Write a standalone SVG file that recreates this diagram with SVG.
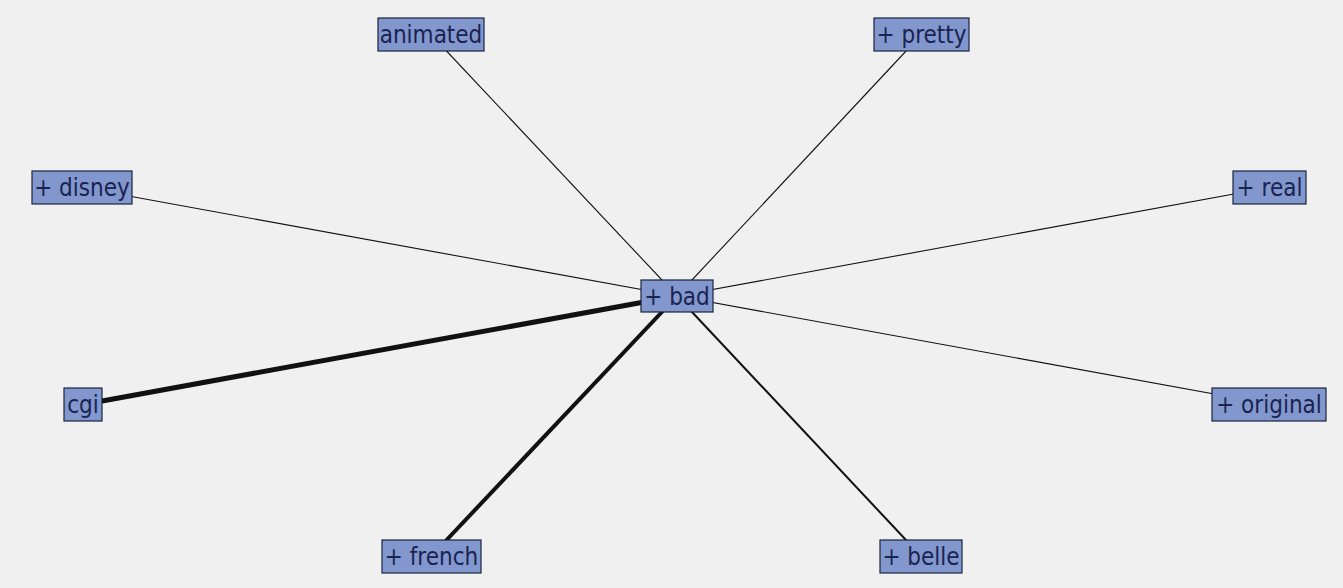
<svg xmlns="http://www.w3.org/2000/svg" width="1343" height="588" viewBox="0 0 1343 588">
  <style>
    .edge { stroke: #111; fill: none; }
    .box { fill: #8197cd; stroke: #1c2440; stroke-width: 1.2; }
    .lbl { font-family: "DejaVu Sans Condensed", "DejaVu Sans", Verdana, sans-serif; font-stretch: condensed; font-size: 24px; fill: #1b2350; text-anchor: middle; }
  </style>
  <rect width="1343" height="588" fill="#f0f0f0"/>

  <!-- connectors: every term links to the hub term -->
  <g id="connectors">
    <line class="edge" x1="677" y1="296" x2="431" y2="34.5" stroke-width="1.1"/>
    <line class="edge" x1="677" y1="296" x2="921.5" y2="34.5" stroke-width="1.1"/>
    <line class="edge" x1="677" y1="296" x2="82" y2="187.5" stroke-width="1.1"/>
    <line class="edge" x1="677" y1="296" x2="1269.5" y2="187.5" stroke-width="1.1"/>
    <line class="edge" x1="677" y1="296" x2="1269" y2="404" stroke-width="1.1"/>
    <line class="edge" x1="677" y1="296" x2="83" y2="404.5" stroke-width="5"/>
    <line class="edge" x1="677" y1="296" x2="431.5" y2="556" stroke-width="4"/>
    <line class="edge" x1="677" y1="296" x2="921" y2="556" stroke-width="2"/>
  </g>

  <g id="node-bad">
    <rect class="box" x="641" y="280" width="72" height="32"/>
    <text class="lbl" x="677" y="305">+ bad</text>
  </g>
  <g id="node-animated">
    <rect class="box" x="378" y="18" width="106" height="33"/>
    <text class="lbl" x="431" y="43">animated</text>
  </g>
  <g id="node-pretty">
    <rect class="box" x="874" y="18" width="95" height="33"/>
    <text class="lbl" x="921.5" y="43">+ pretty</text>
  </g>
  <g id="node-disney">
    <rect class="box" x="32" y="171" width="100" height="33"/>
    <text class="lbl" x="82" y="196">+ disney</text>
  </g>
  <g id="node-real">
    <rect class="box" x="1233" y="171" width="73" height="33"/>
    <text class="lbl" x="1269.5" y="196">+ real</text>
  </g>
  <g id="node-cgi">
    <rect class="box" x="64" y="388" width="38" height="33"/>
    <text class="lbl" x="83" y="413">cgi</text>
  </g>
  <g id="node-original">
    <rect class="box" x="1212" y="388" width="114" height="33"/>
    <text class="lbl" x="1269" y="413">+ original</text>
  </g>
  <g id="node-french">
    <rect class="box" x="382" y="540" width="99" height="33"/>
    <text class="lbl" x="431.5" y="565">+ french</text>
  </g>
  <g id="node-belle">
    <rect class="box" x="880" y="540" width="82" height="33"/>
    <text class="lbl" x="921" y="565">+ belle</text>
  </g>
</svg>
